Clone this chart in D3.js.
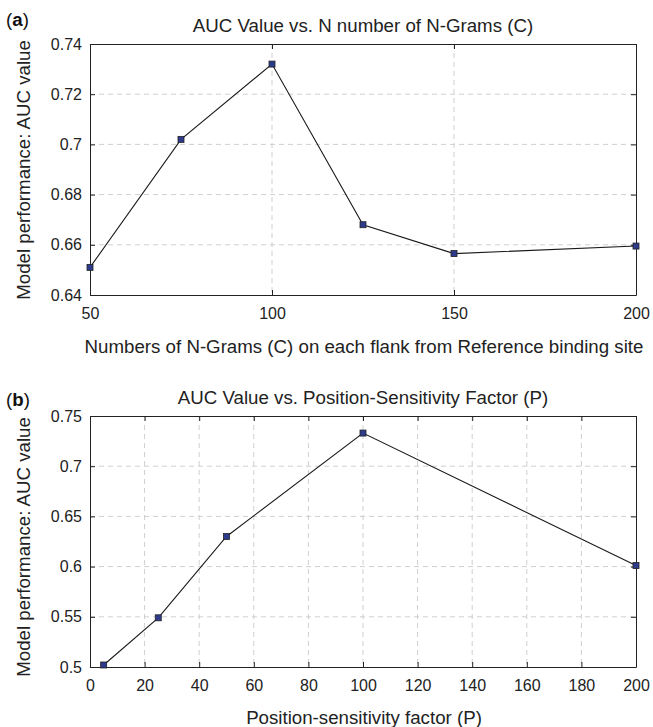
<!DOCTYPE html>
<html>
<head>
<meta charset="utf-8">
<script src="https://cdn.jsdelivr.net/npm/d3@7"></script>
<style>
  body { margin: 0; background: #fff; }
  svg { font-family: "Liberation Sans", Arial, sans-serif; }
</style>
</head>
<body>
<div id="chart"></div>
<script>
// panel (a) data
var gramsX = [50, 75, 100, 125, 150, 200];
var gramsAuc = [0.651, 0.702, 0.732, 0.668, 0.6565, 0.6595];
var gramsXTicks = [50, 100, 150, 200];
var gramsYTicks = [0.64, 0.66, 0.68, 0.70, 0.72, 0.74];

// panel (b) data
var posX = [5, 25, 50, 100, 200];
var posAuc = [0.502, 0.549, 0.63, 0.733, 0.601];
var posXTicks = [0, 20, 40, 60, 80, 100, 120, 140, 160, 180, 200];
var posYTicks = [0.5, 0.55, 0.6, 0.65, 0.7, 0.75];

var W = 653, H = 727;
var labelsize = "18.7px";
var svg = d3.select("#chart").append("svg")
  .attr("width", W)
  .attr("height", H);

function panel(opts) {
  var left = 90, right = 636;
  var top = opts.top, bottom = opts.bottom;

  var x = d3.scaleLinear().domain(opts.xdom).range([left, right]);
  var y = d3.scaleLinear().domain(opts.ydom).range([bottom, top]);

  var g = svg.append("g");

  // grid (dashed)
  g.selectAll(".gx").data(opts.xticks.filter(function(t){ return t > opts.xdom[0] && t < opts.xdom[1]; }))
    .enter().append("line")
    .attr("x1", function(d){ return x(d); }).attr("x2", function(d){ return x(d); })
    .attr("y1", top).attr("y2", bottom)
    .attr("stroke", "#cfcfcf").attr("stroke-dasharray", "5,4").attr("stroke-width", 1);
  g.selectAll(".gy").data(opts.yticks.filter(function(t){ return t > opts.ydom[0] + 1e-9 && t < opts.ydom[1] - 1e-9; }))
    .enter().append("line")
    .attr("y1", function(d){ return y(d); }).attr("y2", function(d){ return y(d); })
    .attr("x1", left).attr("x2", right)
    .attr("stroke", "#cfcfcf").attr("stroke-dasharray", "5,4").attr("stroke-width", 1);

  // axes with inward ticks
  g.append("g").attr("transform", "translate(0," + bottom + ")")
    .call(d3.axisBottom(x).tickValues(opts.xticks).tickSizeInner(-5).tickSizeOuter(0).tickPadding(13))
    .call(function(a){ a.select(".domain").attr("stroke", "#222"); a.selectAll("line").attr("stroke", "#222"); a.selectAll("text").attr("font-size", "16px").attr("fill", "#222").attr("font-family", null); });
  g.append("g").attr("transform", "translate(0," + top + ")")
    .call(d3.axisTop(x).tickValues(opts.xticks).tickSizeInner(-5).tickSizeOuter(0).tickFormat(""))
    .call(function(a){ a.select(".domain").attr("stroke", "#222"); a.selectAll("line").attr("stroke", "#222"); });
  g.append("g").attr("transform", "translate(" + left + ",0)")
    .call(d3.axisLeft(y).tickValues(opts.yticks).tickSizeInner(-5).tickSizeOuter(0).tickPadding(8).tickFormat(opts.yfmt))
    .call(function(a){ a.select(".domain").attr("stroke", "#222"); a.selectAll("line").attr("stroke", "#222"); a.selectAll("text").attr("font-size", "16px").attr("fill", "#222").attr("font-family", null); });
  g.append("g").attr("transform", "translate(" + right + ",0)")
    .call(d3.axisRight(y).tickValues(opts.yticks).tickSizeInner(-5).tickSizeOuter(0).tickFormat(""))
    .call(function(a){ a.select(".domain").attr("stroke", "#222"); a.selectAll("line").attr("stroke", "#222"); });

  // line
  var pts = opts.xs.map(function(v, i){ return [v, opts.ys[i]]; });
  g.append("path")
    .datum(pts)
    .attr("fill", "none").attr("stroke", "#1a1a1a").attr("stroke-width", 1.1)
    .attr("d", d3.line().x(function(d){ return x(d[0]); }).y(function(d){ return y(d[1]); }));

  // square markers
  g.selectAll(".m").data(pts).enter().append("rect")
    .attr("x", function(d){ return x(d[0]) - 3; })
    .attr("y", function(d){ return y(d[1]) - 3; })
    .attr("width", 6).attr("height", 6)
    .attr("fill", "#2e3a8c").attr("stroke", "#222").attr("stroke-width", 0.8);

  // title
  g.append("text").attr("x", (left + right) / 2).attr("y", top - 12)
    .attr("text-anchor", "middle").attr("font-size", labelsize).attr("fill", "#222")
    .text(opts.title);
  // x label
  g.append("text").attr("x", (left + right) / 2 + 1).attr("y", opts.xlabelY)
    .attr("text-anchor", "middle").attr("font-size", labelsize).attr("fill", "#222")
    .text(opts.xlabel);
  // y label
  g.append("text")
    .attr("transform", "translate(30," + opts.ylabelC + ") rotate(-90)")
    .attr("text-anchor", "middle").attr("font-size", labelsize).attr("fill", "#222")
    .text("Model performance: AUC value");
  // panel letter
  var lt = g.append("text").attr("x", 6).attr("y", opts.letterY).attr("font-size", labelsize).attr("fill", "#111");
  lt.append("tspan").text("(");
  lt.append("tspan").attr("font-weight", "bold").text(opts.letter);
  lt.append("tspan").text(")");
}

panel({
  top: 44, bottom: 295,
  xdom: [50, 200], ydom: [0.64, 0.74],
  xticks: gramsXTicks, yticks: gramsYTicks,
  xs: gramsX, ys: gramsAuc,
  yfmt: function(d){ return d3.format(".2f")(d).replace(/0$/, ""); },
  title: "AUC Value vs. N number of N-Grams (C)",
  xlabel: "Numbers of N-Grams (C) on each flank from Reference binding site",
  xlabelY: 353, ylabelC: 170,
  letter: "a", letterY: 26
});

panel({
  top: 416, bottom: 667,
  xdom: [0, 200], ydom: [0.5, 0.75],
  xticks: posXTicks, yticks: posYTicks,
  xs: posX, ys: posAuc,
  yfmt: function(d){ return String(+d.toFixed(2)); },
  title: "AUC Value vs. Position-Sensitivity Factor (P)",
  xlabel: "Position-sensitivity factor (P)",
  xlabelY: 724, ylabelC: 547,
  letter: "b", letterY: 406
});
</script>
</body>
</html>
